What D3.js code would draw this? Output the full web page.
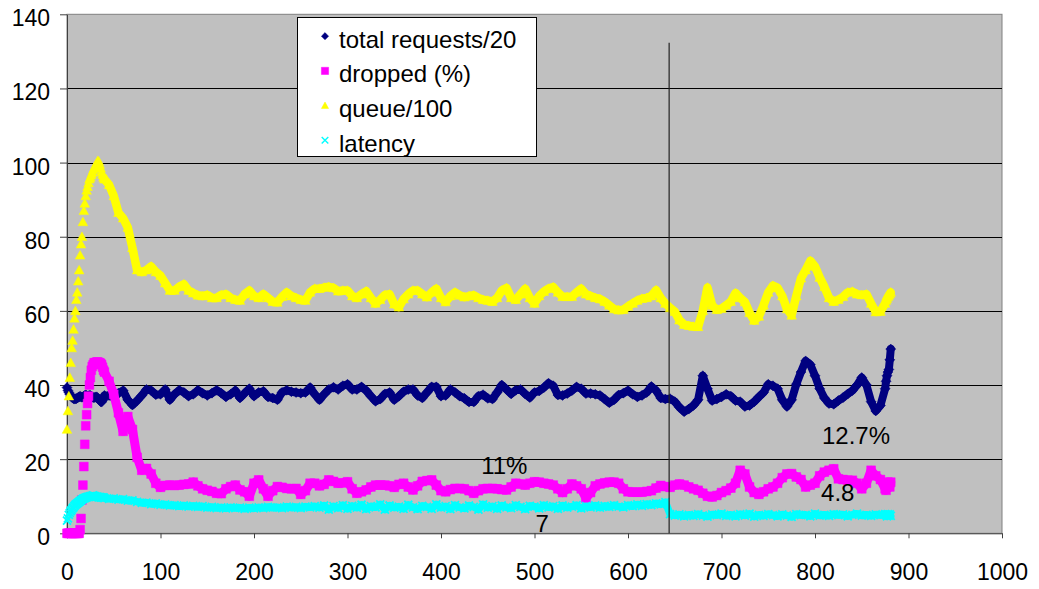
<!DOCTYPE html>
<html>
<head>
<meta charset="utf-8">
<script src="https://cdn.jsdelivr.net/npm/d3@7"></script>
<style>
  body { margin: 0; background: #ffffff; }
  text { font-family: "Liberation Sans", Arial, sans-serif; fill: #000; }
</style>
</head>
<body>
<svg id="chart" width="1039" height="589"></svg>
<script>
// Sample times: every step during start-up, every 5 in the steady run, every step at the end.
const time = d3.range(0, 40, 1).concat(d3.range(40, 876, 5), d3.range(876, 882, 1));

const seriesNames = ["total requests/20", "dropped (%)", "queue/100", "latency"];

const totalRequests = [
  39.3,38.5,38,37.5,37,36.8,36.5,36.3,36.2,36.3, 36.3,36.5,36.7,36.8,37,36.8,36.7,36.8,37,37.2,
  37.3,37.2,37,37.1,37.2,37.2,37,36.8,36.6,36.6, 36.7,36.8,36.8,36.5,36.2,35.8,35.5,35.4,35.8,36.3,
  37.2,37.2,36.6,37.8,38.5,36,34.6,35.8,37.2,38.8,
  38.5,37.4,37.5,38.8,36,37.5,38.6,38,37,37.5,
  38.6,37.8,37.2,37.8,38.6,37.8,36.8,37.5,38.5,36.5,
  37.8,39,37,38,38.3,36.8,36.5,36,38,38.6,
  38.2,38,37.8,38,39.3,37.5,36,37.5,38.8,39.4,
  38.8,39.8,40.2,38.8,38.8,39.5,38.5,37,35.6,36.2,
  37.6,38,36,37,38.2,38.8,38.8,37.2,36.5,38,
  39.5,39.5,37,37.2,38.8,38,37,36.4,35.4,35.4,
  37,37.4,36.4,36.2,38,40,38.8,37.6,38.6,38.8,
  37.6,36.6,38,38.4,39.3,40.5,39.8,37.3,37.2,37.7,
  38.5,39.5,39,37.7,37.7,37.5,37.2,36.2,35.2,36,
  37.3,37.8,38.5,37.5,36.8,37.2,38,39.6,38.5,36.5,
  36.2,36.3,35.5,34,32.8,33.5,34.5,36,42.5,39,
  35.8,36.2,36.8,37.5,37,35.8,35.5,34.2,34.5,35.5,
  36.8,38,40.2,39.8,39,36,34.2,36,40.2,43.5,
  46.5,45.5,42.5,39,36.5,35,34.8,35.8,36.6,37.6,
  38.5,40,42,40,35.5,33,34.5,39,
  41,42.5,43.5,44.2,46.8,49.7
];

const dropped = [
  0,0,0,0,0,0,0,0,0,0, 0,0,0,0,1,4,9,13,18,24,
  29,32,35,37,40,42,44,45,45.5,46, 46,46,46.2,46.2,46,46,45.8,45.5,44.8,44,
  43.5,41,37.5,32.5,27.5,31.5,28,20.5,17,17.5,
  16,13.5,12.4,12.9,13,12.9,13,13.2,13.3,13.8,
  12.8,12,11.6,11.3,10.8,10.7,12,12.6,13,11.7,
  11.2,10,13.5,14.4,12,10,11.5,12.6,12.4,12.1,
  12,12.1,10.5,11.5,13.5,13.5,12.8,13.2,14.4,14,
  13.5,13.6,13.9,12,10.8,11.2,11.7,12.5,13,13,
  13,12.8,12.4,13.2,13.5,12.5,11.7,12.8,14,14.2,
  14.4,13,11.5,11.2,11.8,12.1,12.1,12,11.5,10.8,
  11.5,12,12.1,12.1,12,11.8,11.7,12.5,13.5,13.3,
  13,13.5,13.9,13.8,13.5,13.3,13,12,11,12,
  13.3,12.8,12,9.5,11,12.8,13.3,13.6,13.8,13.8,
  13.5,12,11.2,11.1,11.1,11.1,11.3,11.5,12.2,12.9,
  12.6,12.4,13,13.3,13,12.5,12,11.6,10.8,10,
  9.8,10.2,11,11.5,12.2,13.5,17,16,12.5,11,
  10.5,11.2,12,12.5,13.5,15,16,16.1,15.2,14.5,
  12.5,13,13.5,15.5,16.5,17,17.4,14.7,14.5,14.3,
  14.3,13.5,12,13.5,17,15.5,14.5,12,
  11.6,12.5,13.8,13.5,12.5,13.8
];

const queue = [
  28,33,37,42,46,50,52,55,58,60, 63,65,68,71,75,78,80,84,87,89,
  91,92.5,93.5,94.5,95.5,96,96.7,97.3,98,98.5, 99,99.5,100,100.5,100.3,99.5,98.5,97.5,96.8,96,
  95.5,94,91,86.5,85,82.5,77,71,70.5,71,
  72,70.5,69.5,67.5,65.5,65.5,66.5,67.2,65.5,64.8,
  64.2,64,64.3,63.5,63.5,64.3,64.5,63.5,63,62.8,
  64.5,65.5,64,63.5,64.5,63.5,62.5,62.3,63.8,65,
  64,63.5,63,62.8,65,66,66,66.3,66.5,66.2,
  65.3,65.5,65.5,64,63.5,64.5,65.3,63.5,62,63,
  64.3,64.5,61.8,61,63.2,64.5,65.5,65.5,64.5,63.7,
  65,66,63.5,62.4,64,65,64.2,63.7,64,64.2,
  63.5,63,62.8,62.5,63.5,65.5,66.2,63.5,63,64.5,
  66,63.5,62,64,65.2,66,66.4,65,63.8,63.8,
  63.8,65,66,64.5,64,63.5,63.2,62.5,61.5,60.5,
  60.2,60.3,61.2,62,62.8,63.3,63.5,64,65.6,63.5,
  62,60.8,59.8,57.5,56.3,56,55.8,55.7,60,66.3,
  61.5,60.3,60.6,61.5,62.5,64.8,63.5,62.4,59.5,57.4,
  58.5,61.5,65,66.8,66.2,64,60.5,58.8,64,68.8,
  71,73.5,72,69,66.5,63.5,62.5,63,63.8,65,
  65.2,64.5,64.3,64.5,62,59.7,59.8,62,
  62.8,63.3,63.8,64.2,64.6,65
];

const latency = [
  3.4,4,5,5.5,6,6.3,6.7,7,7.4,7.7, 7.9,8.1,8.3,8.5,8.7,8.9,9.1,9.3,9.4,9.5,
  9.6,9.7,9.8,9.8,9.9,10,10,10.1,10.2,10, 10,9.8,9.9,9.8,9.7,9.8,9.6,9.7,9.6,9.7,
  9.5,9.3,9.4,9.1,9.2,8.8,8.9,8.5,8.2,8.3,
  7.9,8.1,7.7,7.8,7.5,7.6,7.3,7.5,7.2,7.4,
  7.1,7.3,6.9,7.1,6.8,7.0,6.7,7.0,6.8,6.9,
  6.6,6.9,6.7,7.0,6.8,7.1,6.9,7.0,6.8,7.2,
  6.9,7.1,6.8,7.2,7.0,7.3,6.9,7.5,6.4,7.3,
  6.8,7.6,6.6,7.4,6.9,7.7,6.5,7.3,7.0,7.8,
  6.4,7.5,6.9,7.2,6.6,7.7,7.0,6.5,7.4,7.1,
  6.6,7.8,6.9,7.3,6.5,7.6,7.0,6.7,7.5,7.1,
  6.4,7.8,6.9,7.3,6.6,7.5,7.0,6.8,7.6,7.1,
  6.5,7.4,7.2,6.7,7.6,7.0,7.3,6.6,7.5,6.9,
  7.2,7.6,6.7,7.3,7.0,7.5,6.9,7.4,7.1,7.6,
  7.2,7.0,7.6,7.3,7.8,7.4,7.9,7.6,8.1,7.8,
  8.4,5.2,4.8,5.1,4.6,5.0,4.7,5.2,4.8,4.5,
  5.1,4.9,5.3,4.7,5.0,4.6,5.2,4.8,5.3,4.5,
  5.0,4.7,5.2,4.9,4.6,5.1,4.8,4.4,5.2,4.9,
  5.0,4.6,5.3,4.8,5.0,4.7,5.2,4.9,5.1,4.6,
  5.0,5.3,4.8,5.0,4.7,5.1,4.9,5.2,
  5.0,4.6,5.2,4.8,5.1,4.7
];

const xTicks = [0, 100, 200, 300, 400, 500, 600, 700, 800, 900, 1000];
const yTicks = [0, 20, 40, 60, 80, 100, 120, 140];
const noteLabels = ["11%", "7", "12.7%", "4.8"];
const markerTime = 644;   // time of the configuration change

const svg = d3.select("#chart");

const x = d3.scaleLinear().domain([0, 1000]).range([67, 1002]);
const y = d3.scaleLinear().domain([0, 140]).range([533.3, 14.3]);

// plot area
svg.append("rect")
  .attr("x", x(0)).attr("y", y(140))
  .attr("width", x(1000) - x(0)).attr("height", y(0) - y(140))
  .attr("fill", "#c0c0c0").attr("stroke", "#808080").attr("stroke-width", 1);

// horizontal gridlines
svg.append("g").selectAll("line")
  .data(yTicks.filter(v => v > 0 && v < 140))
  .join("line")
  .attr("x1", x(0)).attr("x2", x(1000))
  .attr("y1", d => Math.round(y(d)) + 0.5).attr("y2", d => Math.round(y(d)) + 0.5)
  .attr("stroke", "#000").attr("stroke-width", 1);

// axes
const yAxis = svg.append("g")
  .attr("transform", `translate(${x(0)},0)`)
  .call(d3.axisLeft(y).tickValues(yTicks).tickFormat(d3.format("d"))
    .tickSize(7).tickSizeOuter(0).tickPadding(10));
const xAxis = svg.append("g")
  .attr("transform", `translate(0,${y(0)})`)
  .call(d3.axisBottom(x).tickValues(xTicks).tickFormat(d3.format("d"))
    .tickSize(5).tickSizeOuter(0).tickPadding(25));

[yAxis, xAxis].forEach(g => {
  g.select(".domain").attr("stroke", "#404040");
  g.selectAll(".tick line").attr("stroke", "#404040");
  g.selectAll("text").attr("font-size", 23).attr("fill", "#000")
    .attr("font-family", "'Liberation Sans', Arial, sans-serif");
});
yAxis.selectAll("text").attr("dy", "0.5em");

// marker shapes
function markerPath(shape, s) {
  switch (shape) {
    case "diamond":  return `M0,${-s}L${s},0L0,${s}L${-s},0Z`;
    case "square":   return `M${-s},${-s}H${s}V${s}H${-s}Z`;
    case "triangle": return `M0,${-s}L${s},${s * 0.8}L${-s},${s * 0.8}Z`;
    default:         return `M${-s},${-s}L${s},${s}M${s},${-s}L${-s},${s}`;
  }
}

const series = [
  { name: seriesNames[0], values: totalRequests, color: "#000080", shape: "diamond",  size: 5,   band: 8 },
  { name: seriesNames[1], values: dropped,       color: "#ff00ff", shape: "square",   size: 4.4, band: 9 },
  { name: seriesNames[2], values: queue,         color: "#ffff00", shape: "triangle", size: 4.8, band: 8.5 },
  { name: seriesNames[3], values: latency,       color: "#00ffff", shape: "cross",    size: 4,   band: 7.5 }
];

const steady = time.map((t, i) => i).filter(i => time[i] >= 39);

series.forEach(s => {
  const g = svg.append("g");
  // dense markers merge into a thick trace
  g.append("path")
    .attr("d", d3.line().x(i => x(time[i])).y(i => y(s.values[i]))(steady))
    .attr("fill", "none").attr("stroke", s.color)
    .attr("stroke-width", s.band).attr("stroke-linejoin", "round").attr("stroke-linecap", "round");
  g.selectAll("path.mk")
    .data(time.map((t, i) => i))
    .join("path")
    .attr("class", "mk")
    .attr("transform", i => `translate(${x(time[i])},${y(s.values[i])})`)
    .attr("d", markerPath(s.shape, s.size))
    .attr("fill", s.shape === "cross" ? "none" : s.color)
    .attr("stroke", s.color)
    .attr("stroke-width", s.shape === "cross" ? 1.8 : 0.5);
});

// configuration change marker
svg.append("line")
  .attr("x1", x(markerTime)).attr("x2", x(markerTime))
  .attr("y1", y(0)).attr("y2", y(132.3))
  .attr("stroke", "#222").attr("stroke-width", 1.2);

// value notes
const notePos = [[443, 15.9], [501, 0.3], [807.5, 24.1], [806.5, 8.8]];
svg.append("g").selectAll("text")
  .data(noteLabels)
  .join("text")
  .attr("x", (d, i) => x(notePos[i][0]))
  .attr("y", (d, i) => y(notePos[i][1]))
  .attr("font-size", 24)
  .text(d => d);

// legend
const legend = svg.append("g");
legend.append("rect")
  .attr("x", 297.5).attr("y", 17.5).attr("width", 239).attr("height", 139)
  .attr("fill", "#fff").attr("stroke", "#000").attr("stroke-width", 1);
series.forEach((s, k) => {
  const base = 47.7 + k * 34.7;
  legend.append("path")
    .attr("transform", `translate(325,${base - 11.5})`)
    .attr("d", markerPath(s.shape, s.shape === "cross" ? 3.3 : 3.6))
    .attr("fill", s.shape === "cross" ? "none" : s.color)
    .attr("stroke", s.color)
    .attr("stroke-width", s.shape === "cross" ? 1.4 : 0.5);
  legend.append("text")
    .attr("x", 339).attr("y", base)
    .attr("font-size", 24)
    .text(s.name);
});
</script>
</body>
</html>
